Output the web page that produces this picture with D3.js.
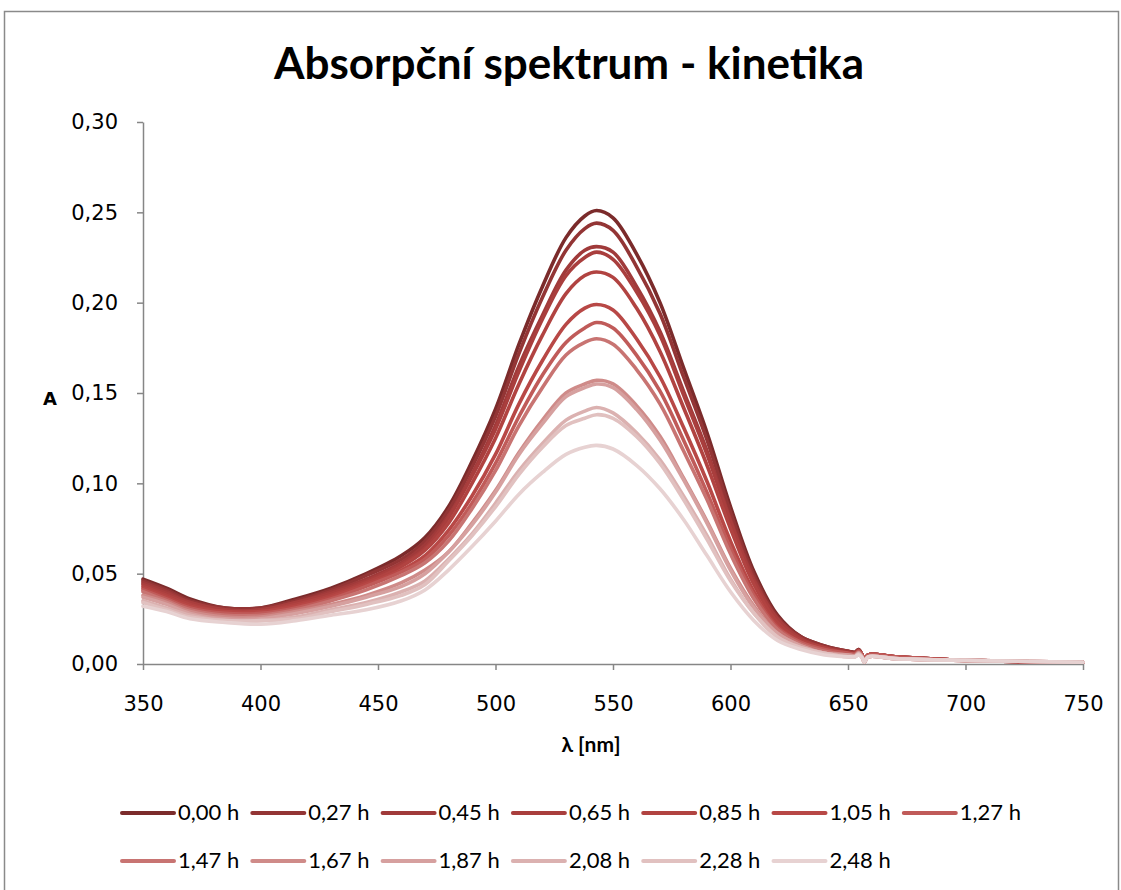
<!DOCTYPE html>
<html><head><meta charset="utf-8">
<script src="https://cdn.jsdelivr.net/npm/d3@7"></script>
<style>body{margin:0;background:#fff}svg{display:block}</style>
</head><body>
<svg id="c" width="1121" height="890"></svg>
<script>
const wavelengths = [350,360,370,385,400,415,430,445,460,470,480,490,500,510,520,530,538,543,550,560,570,580,590,600,610,620,630,640,650,653,654.5,656,657,658.5,670,700,750];
const seriesNames = ["0,00 h","0,27 h","0,45 h","0,65 h","0,85 h","1,05 h","1,27 h","1,47 h","1,67 h","1,87 h","2,08 h","2,28 h","2,48 h"];
const s000 = [.047,.042,.036,.031,.031,.036,.042,.050,.060,.070,.087,.112,.141,.177,.209,.236,.248,.251,.247,.227,.200,.164,.128,.087,.051,.027,.015,.010,.007,.0065,.008,.005,.001,.005,.004,.002,.001];
const s027 = [.046,.041,.035,.031,.031,.035,.041,.049,.058,.068,.085,.109,.137,.172,.203,.229,.241,.244,.240,.220,.194,.159,.124,.084,.049,.026,.015,.010,.007,.0065,.008,.005,.001,.005,.004,.002,.001];
const s045 = [.045,.040,.034,.030,.030,.034,.040,.047,.056,.066,.082,.105,.132,.165,.193,.218,.229,.231,.228,.209,.184,.151,.118,.080,.047,.025,.014,.009,.007,.006,.0075,.005,.001,.005,.004,.002,.001];
const s065 = [.044,.039,.034,.030,.030,.034,.039,.046,.055,.064,.081,.104,.130,.162,.191,.215,.225,.228,.224,.206,.182,.149,.116,.079,.046,.025,.014,.009,.006,.006,.0075,.005,.001,.005,.004,.002,.001];
const s085 = [.043,.038,.033,.029,.029,.033,.038,.045,.054,.063,.078,.100,.125,.155,.182,.205,.215,.217,.214,.197,.173,.142,.110,.075,.044,.023,.013,.009,.006,.006,.0075,.005,.001,.005,.004,.002,.001];
const s105 = [.042,.037,.032,.029,.029,.032,.037,.044,.052,.060,.074,.093,.116,.144,.168,.188,.197,.199,.196,.180,.159,.131,.101,.068,.040,.021,.012,.008,.006,.0055,.007,.005,.001,.005,.004,.002,.001];
const s127 = [.041,.036,.031,.028,.028,.031,.036,.043,.051,.058,.071,.089,.111,.137,.160,.178,.186,.189,.186,.171,.151,.124,.095,.064,.038,.020,.012,.008,.006,.0055,.007,.005,.001,.005,.004,.002,.001];
const s147 = [.040,.035,.030,.027,.027,.030,.035,.041,.049,.056,.068,.086,.107,.132,.153,.171,.178,.180,.177,.163,.144,.118,.091,.061,.036,.019,.011,.007,.005,.005,.0065,.004,.001,.004,.003,.002,.001];
const s167 = [.038,.034,.029,.026,.026,.029,.033,.038,.045,.052,.062,.078,.096,.117,.135,.150,.155,.157,.155,.143,.126,.103,.079,.053,.032,.017,.010,.006,.005,.0045,.006,.004,.001,.004,.003,.002,.001];
const s187 = [.037,.033,.028,.025,.025,.028,.032,.037,.043,.050,.062,.077,.095,.116,.133,.148,.153,.155,.153,.141,.124,.102,.078,.052,.031,.017,.010,.006,.005,.0045,.006,.004,.001,.004,.003,.002,.001];
const s208 = [.035,.031,.027,.024,.024,.026,.030,.034,.040,.046,.058,.072,.089,.107,.122,.135,.140,.142,.139,.128,.113,.093,.071,.047,.028,.015,.009,.006,.004,.004,.0055,.0035,.001,.004,.003,.002,.001];
const s228 = [.034,.030,.026,.024,.024,.025,.029,.033,.038,.044,.057,.071,.087,.105,.120,.132,.136,.138,.136,.126,.111,.091,.069,.046,.028,.015,.009,.006,.004,.004,.0055,.0035,.001,.004,.003,.002,.001];
const s248 = [.032,.029,.025,.023,.022,.024,.027,.030,.035,.041,.052,.065,.079,.094,.106,.116,.120,.121,.119,.110,.097,.080,.060,.040,.024,.013,.008,.005,.004,.004,.005,.0035,.001,.004,.003,.002,.001];
const seriesValues = [s000,s027,s045,s065,s085,s105,s127,s147,s167,s187,s208,s228,s248];
const seriesColors = ["#7b2b2b","#933535","#a03a3a","#a93e3d","#b14341","#b84846","#c05b59","#c87472","#cf8b89","#d6a09f","#dbb1b0","#e1c1c0","#e7d2d2"];
const xTicks = [350,400,450,500,550,600,650,700,750];
const yTicks = [0,0.05,0.10,0.15,0.20,0.25,0.30];

const svg = d3.select("#c");
svg.append("rect").attr("x",4.5).attr("y",11.5).attr("width",1114).attr("height",900)
  .attr("fill","#fff").attr("stroke","#8a8a8a").attr("stroke-width",1.5);

const x = d3.scaleLinear().domain([350,750]).range([143,1083]);
const y = d3.scaleLinear().domain([0,0.30]).range([664,122]);

svg.append("text").attr("x",569).attr("y",79).attr("text-anchor","middle")
  .attr("font-family","Lato, 'Open Sans', sans-serif").attr("font-weight","bold").attr("font-size",44)
  .attr("fill","#000").text("Absorpční spektrum - kinetika");

const fmt = v => d3.format(".2f")(v).replace(".", ",");
const yAxis = svg.append("g").attr("transform","translate(143,0)")
  .call(d3.axisLeft(y).tickValues(yTicks).tickFormat(fmt).tickSize(6).tickSizeOuter(0).tickPadding(19));
const xAxis = svg.append("g").attr("transform","translate(0,664)")
  .call(d3.axisBottom(x).tickValues(xTicks).tickFormat(d3.format("d")).tickSize(6).tickSizeOuter(0).tickPadding(26));
[yAxis,xAxis].forEach(g=>{
  g.selectAll("path,line").attr("stroke","#868686").attr("stroke-width",1.5);
  g.selectAll("text").attr("font-family","'DejaVu Sans', Verdana, sans-serif").attr("font-size",21).attr("fill","#000");
});

svg.append("text").attr("x",50).attr("y",405).attr("text-anchor","middle")
  .attr("font-family","'DejaVu Sans', sans-serif").attr("font-weight","bold").attr("font-size",18).text("A");
svg.append("text").attr("x",591).attr("y",752).attr("text-anchor","middle")
  .attr("font-family","Lato, sans-serif").attr("font-weight","bold").attr("font-size",21).text("λ [nm]");

const line = d3.line().x((d,i)=>x(wavelengths[i])).y(d=>y(d)).curve(d3.curveCatmullRom.alpha(0.5));
svg.append("g").selectAll("path").data(seriesValues).join("path")
  .attr("d",d=>line(d)).attr("fill","none")
  .attr("stroke",(d,i)=>seriesColors[i]).attr("stroke-width",3.6)
  .attr("stroke-linejoin","round").attr("stroke-linecap","round");

const leg = svg.append("g");
seriesNames.forEach((n,i)=>{
  const row = Math.floor(i/7), col = i%7;
  const lx = 122 + col*130.3, ly = 813 + row*48;
  leg.append("line").attr("x1",lx).attr("x2",lx+52).attr("y1",ly).attr("y2",ly)
    .attr("stroke",seriesColors[i]).attr("stroke-width",4).attr("stroke-linecap","round");
  leg.append("text").attr("x",lx+56).attr("y",ly+7).attr("font-family","Lato, sans-serif")
    .attr("font-size",22).attr("fill","#000").text(n);
});
</script>
</body></html>
